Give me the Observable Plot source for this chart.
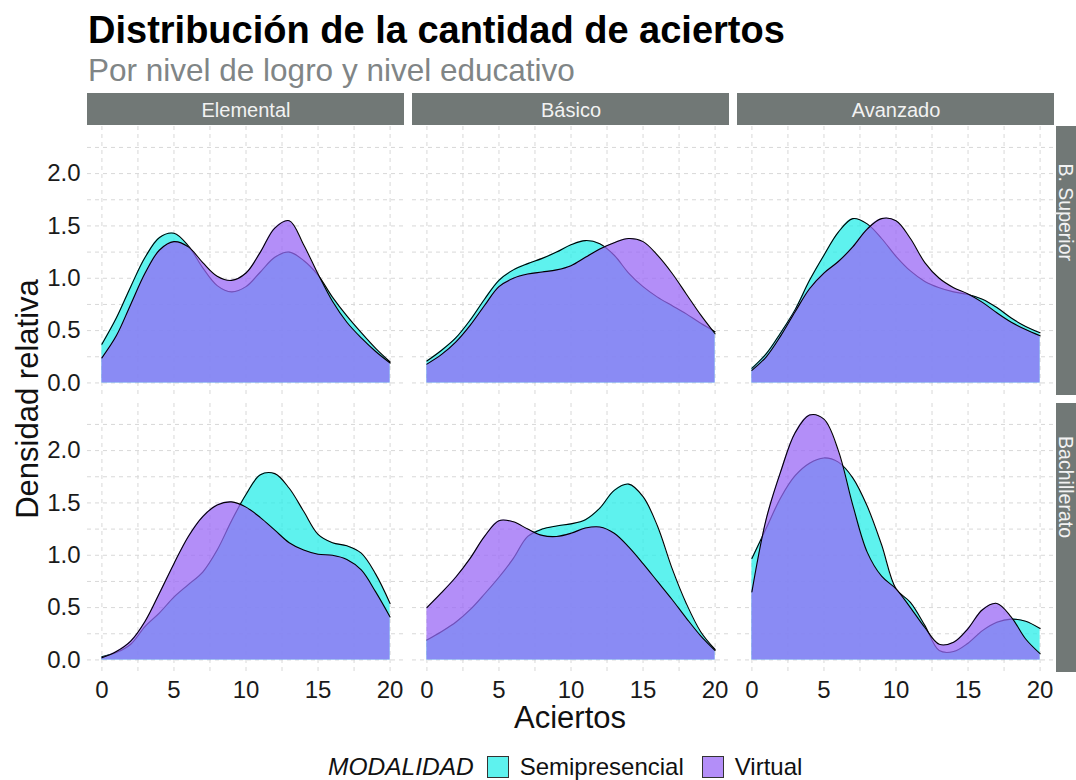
<!DOCTYPE html>
<html><head><meta charset="utf-8">
<script src="https://cdn.jsdelivr.net/npm/d3@7"></script>
<script src="https://cdn.jsdelivr.net/npm/@observablehq/plot@0.6"></script>
<style>
body{margin:0;background:#fff;font-family:"Liberation Sans",Arial,Helvetica,sans-serif;}
#wrap{position:relative;width:1076px;height:780px;overflow:hidden;}
#chart{position:absolute;left:0;top:0;}
.abs{position:absolute;white-space:nowrap;line-height:1;}
#title{left:88px;top:11px;font-size:38px;font-weight:bold;color:#000;}
#subtitle{left:88px;top:55px;font-size:31.5px;color:#808586;}
#xlab{left:570px;top:702px;font-size:31px;transform:translateX(-50%);color:#111;}
#ylab{left:27px;top:399px;font-size:31px;transform:translate(-50%,-50%) rotate(-90deg);color:#111;}
#legend{left:328px;top:755px;height:24px;display:flex;align-items:center;font-size:24px;line-height:1;color:#111;}
#legend .lab{font-style:italic;font-size:24.5px;padding-right:1px;}
#legend .sw{display:inline-block;width:20px;height:20px;border:1px solid #333;margin:0 11px 0 12px;}
#legend .sw2{margin-left:18px;}
</style></head>
<body><div id="wrap">
<div id="chart"></div>
<div id="title" class="abs">Distribución de la cantidad de aciertos</div>
<div id="subtitle" class="abs">Por nivel de logro y nivel educativo</div>
<div id="xlab" class="abs">Aciertos</div>
<div id="ylab" class="abs">Densidad relativa</div>
<div id="legend" class="abs"></div>
</div>
<script>
// ---- data ----
const aciertos = [0,1,2,3,4,5,6,7,8,9,10,11,12,13,14,15,16,17,18,19,20];
const niveles = ["Elemental","Básico","Avanzado"];
const educacion = ["B. Superior","Bachillerato"];
const modalidades = ["Semipresencial","Virtual"];
const colores = ["#28EDE8","#9968F5"];

const semiElementalSup = [0.37,0.62,0.92,1.20,1.39,1.43,1.31,1.10,0.93,0.87,0.92,1.06,1.20,1.25,1.17,1.03,0.82,0.64,0.48,0.33,0.20];
const virtElementalSup = [0.24,0.45,0.75,1.05,1.27,1.35,1.30,1.15,1.02,0.98,1.05,1.25,1.48,1.55,1.32,1.04,0.78,0.58,0.43,0.30,0.19];
const semiBasicoSup    = [0.21,0.31,0.43,0.60,0.80,0.98,1.08,1.14,1.19,1.25,1.32,1.36,1.33,1.22,1.05,0.92,0.82,0.74,0.66,0.57,0.49];
const virtBasicoSup    = [0.18,0.27,0.39,0.55,0.74,0.92,1.00,1.04,1.06,1.08,1.12,1.20,1.28,1.34,1.38,1.35,1.22,1.05,0.85,0.65,0.47];
const semiAvanzadoSup  = [0.14,0.28,0.48,0.70,0.98,1.22,1.44,1.57,1.52,1.38,1.21,1.07,0.97,0.91,0.87,0.845,0.80,0.72,0.62,0.54,0.48];
const virtAvanzadoSup  = [0.12,0.25,0.45,0.68,0.90,1.05,1.16,1.30,1.47,1.57,1.55,1.38,1.15,1.00,0.91,0.85,0.77,0.67,0.58,0.51,0.45];
const semiElementalBach = [0.03,0.07,0.15,0.32,0.45,0.60,0.72,0.84,1.05,1.33,1.58,1.77,1.78,1.64,1.42,1.20,1.12,1.09,1.02,0.82,0.54];
const virtElementalBach = [0.02,0.08,0.18,0.37,0.64,0.92,1.18,1.37,1.48,1.51,1.46,1.36,1.24,1.12,1.05,1.01,1.00,0.96,0.86,0.65,0.41];
const semiBasicoBach    = [0.19,0.27,0.36,0.48,0.63,0.79,0.97,1.18,1.25,1.28,1.30,1.34,1.45,1.62,1.68,1.56,1.28,0.88,0.54,0.27,0.10];
const virtBasicoBach    = [0.50,0.64,0.79,0.97,1.18,1.33,1.32,1.25,1.19,1.18,1.21,1.26,1.27,1.21,1.08,0.92,0.75,0.58,0.40,0.23,0.09];
const semiAvanzadoBach  = [0.97,1.26,1.55,1.76,1.88,1.93,1.89,1.74,1.47,1.10,0.68,0.55,0.33,0.09,0.08,0.16,0.28,0.36,0.39,0.37,0.30];
const virtAvanzadoBach  = [0.65,1.35,1.80,2.17,2.34,2.30,2.00,1.48,1.03,0.80,0.68,0.50,0.31,0.15,0.17,0.30,0.48,0.54,0.41,0.20,0.06];

const xTicks = [0,5,10,15,20];
const yTicks = [0,0.5,1,1.5,2];
const xGrid = [0,2.5,5,7.5,10,12.5,15,17.5,20];
const yGrid = [0,0.25,0.5,0.75,1,1.25,1.5,1.75,2,2.25];

const series = [
  ["Elemental","B. Superior","Semipresencial",semiElementalSup],
  ["Elemental","B. Superior","Virtual",virtElementalSup],
  ["Básico","B. Superior","Semipresencial",semiBasicoSup],
  ["Básico","B. Superior","Virtual",virtBasicoSup],
  ["Avanzado","B. Superior","Semipresencial",semiAvanzadoSup],
  ["Avanzado","B. Superior","Virtual",virtAvanzadoSup],
  ["Elemental","Bachillerato","Semipresencial",semiElementalBach],
  ["Elemental","Bachillerato","Virtual",virtElementalBach],
  ["Básico","Bachillerato","Semipresencial",semiBasicoBach],
  ["Básico","Bachillerato","Virtual",virtBasicoBach],
  ["Avanzado","Bachillerato","Semipresencial",semiAvanzadoBach],
  ["Avanzado","Bachillerato","Virtual",virtAvanzadoBach]
];
const rows = series.flatMap(([nivel, edu, modalidad, vals]) =>
  vals.map((v, i) => ({nivel, edu, modalidad, x: aciertos[i], y: v})));

const topStrips = niveles.map(n => ({nivel: n, edu: educacion[0]}));
const rightStrips = educacion.map(e => ({nivel: niveles[niveles.length - 1], edu: e}));

const panelW = 317, panelH = 269;
const stripFill = "#717876";
const curve = "catmull-rom";

const densityMarks = modalidades.flatMap((m, i) => {
  const d = rows.filter(r => r.modalidad === m);
  return [
    Plot.areaY(d, {x: "x", y: "y", fx: "nivel", fy: "edu", fill: colores[i], fillOpacity: 0.75, curve}),
    Plot.lineY(d, {x: "x", y: "y", fx: "nivel", fy: "edu", stroke: "#000", strokeWidth: 1.1, curve})
  ];
});

const chart = Plot.plot({
  width: 1076,
  height: 780,
  marginTop: 126,
  marginBottom: 108,
  marginLeft: 87,
  marginRight: 22,
  style: {fontSize: "24px", fontFamily: "'Liberation Sans', Arial, sans-serif", color: "#1a1a1a", background: "transparent"},
  fx: {domain: niveles, paddingInner: 8 / 325, paddingOuter: 0, axis: null},
  fy: {domain: educacion, paddingInner: 8 / 277, paddingOuter: 0, axis: null},
  x: {domain: [-1, 21], ticks: xTicks, tickSize: 0, tickPadding: 8, label: null},
  y: {domain: [-0.12, 2.45], ticks: yTicks, tickFormat: d3.format(".1f"), tickSize: 0, tickPadding: 7, label: null},
  marks: [
    Plot.ruleX(xGrid, {stroke: "#d8d8d8", strokeWidth: 1, strokeDasharray: "4,4"}),
    Plot.ruleY(yGrid, {stroke: "#d8d8d8", strokeWidth: 1, strokeDasharray: "4,4"}),
    ...densityMarks,
    Plot.rect(topStrips, {fx: "nivel", fy: "edu", fill: stripFill, insetTop: -33, insetBottom: panelH + 1}),
    Plot.text(topStrips, {fx: "nivel", fy: "edu", text: "nivel", frameAnchor: "top", dy: -24, fill: "#f2f2f2", fontSize: 20}),
    Plot.rect(rightStrips, {fx: "nivel", fy: "edu", fill: stripFill, insetLeft: panelW + 2, insetRight: -30}),
    Plot.text(rightStrips, {fx: "nivel", fy: "edu", text: "edu", frameAnchor: "right", dx: 11, rotate: 90, fill: "#f2f2f2", fontSize: 19.5})
  ]
});
document.getElementById("chart").appendChild(chart);

// legend
const leg = document.getElementById("legend");
const lab = document.createElement("span");
lab.className = "lab";
lab.textContent = "MODALIDAD";
leg.appendChild(lab);
modalidades.forEach((m, i) => {
  const sw = document.createElement("span");
  sw.className = i === 0 ? "sw" : "sw sw2";
  const c = d3.color(colores[i]); c.opacity = 0.75;
  sw.style.background = c.formatRgb();
  leg.appendChild(sw);
  const t = document.createElement("span");
  t.textContent = m;
  leg.appendChild(t);
});
</script>
</body></html>
